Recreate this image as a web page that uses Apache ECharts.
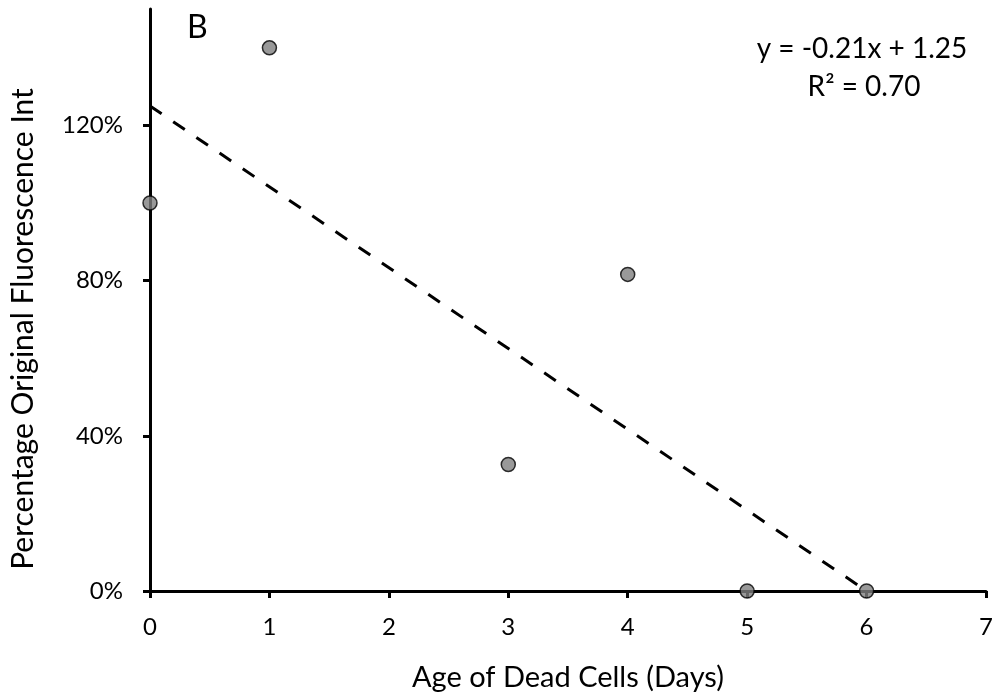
<!DOCTYPE html>
<html><head><meta charset="utf-8">
<script src="https://cdn.jsdelivr.net/npm/echarts@6/dist/echarts.min.js"></script>
<style>html,body{margin:0;padding:0;background:#fff}#c{width:997px;height:697px}</style>
</head><body><div id="c"></div>
<script>
const days = [0, 1, 3, 4, 5, 6];
const fluorescence = [1.00, 1.40, 0.326, 0.816, 0.0, 0.0];
const trendX = [0, 6];
const trendY = [1.25, 0.0];
const yTicks = [0, 0.4, 0.8, 1.2];
const xTicks = [0, 1, 2, 3, 4, 5, 6, 7];
const equationText = 'y = -0.21x + 1.25';
const r2Text = 'R² = 0.70';
const panelLabel = 'B';
const xTitle = 'Age of Dead Cells (Days)';
const yTitle = 'Percentage Original Fluorescence Int';

const FONT = 'Lato';
const chart = echarts.init(document.getElementById('c'));
chart.setOption({
  animation: false,
  backgroundColor: '#fff',
  grid: {left: 150, right: 11, top: 9, bottom: 106},
  xAxis: {
    type: 'value', min: 0, max: 7, interval: 1,
    splitLine: {show: false},
    axisLine: {lineStyle: {color: '#000', width: 3}},
    axisTick: {length: 7, lineStyle: {color: '#000', width: 3}, customValues: xTicks},
    axisLabel: {color: '#000', fontSize: 24, fontFamily: FONT, margin: 24, customValues: xTicks},
    name: xTitle, nameLocation: 'middle', nameGap: 72,
    nameTextStyle: {color: '#000', fontSize: 29, fontFamily: FONT}
  },
  yAxis: {
    type: 'value', min: 0, max: 1.5,
    splitLine: {show: false},
    axisLine: {onZero: false, lineStyle: {color: '#000', width: 3}},
    axisTick: {length: 7, lineStyle: {color: '#000', width: 3}, customValues: yTicks},
    axisLabel: {color: '#000', fontSize: 24, fontFamily: FONT, margin: 27, customValues: yTicks,
      formatter: v => Math.round(v * 100) + '%'}
  },
  graphic: [
    {type: 'text', x: 23, y: 329, rotation: Math.PI / 2, style: {
      text: yTitle, fill: '#000', font: '30px ' + FONT, align: 'center', verticalAlign: 'middle'}},
    {type: 'text', x: 187, y: 28, style: {text: panelLabel, fill: '#000', font: '32px ' + FONT, align: 'left', verticalAlign: 'middle'}},
    {type: 'text', x: 862, y: 49, style: {text: equationText, fill: '#000', font: '28px ' + FONT, align: 'center', verticalAlign: 'middle'}},
    {type: 'text', x: 864, y: 87, style: {text: r2Text, fill: '#000', font: '28px ' + FONT, align: 'center', verticalAlign: 'middle'}}
  ],
  series: [
    {
      type: 'line', data: trendX.map((x, i) => [x, trendY[i]]),
      symbol: 'none', lineStyle: {color: '#000', width: 3, type: [14, 14]}, z: 2
    },
    {
      type: 'scatter', data: days.map((d, i) => [d, fluorescence[i]]),
      symbolSize: 14, itemStyle: {color: '#808080', borderColor: '#000', borderWidth: 1.5}, z: 3
    }
  ]
});
</script></body></html>
